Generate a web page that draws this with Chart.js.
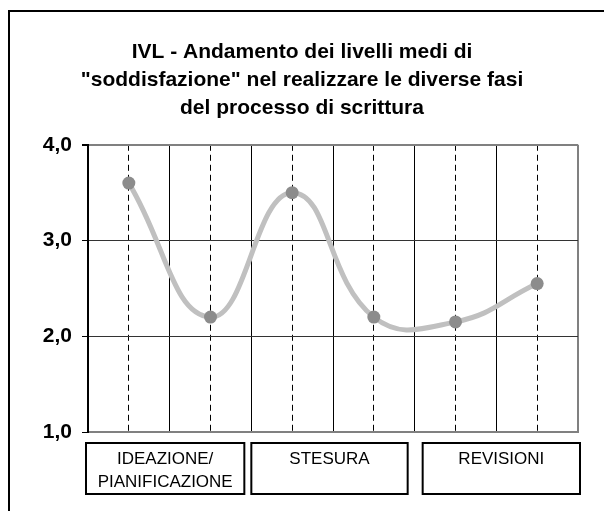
<!DOCTYPE html>
<html>
<head>
<meta charset="utf-8">
<script src="https://cdn.jsdelivr.net/npm/chart.js@4/dist/chart.umd.min.js"></script>
<style>
  html, body { margin: 0; padding: 0; background: #fff; overflow: hidden; }
  #frame { position: absolute; left: 8px; top: 10px; width: 700px; height: 600px; border: 2px solid #000; }
  #wrap { position: absolute; left: 0; top: 0; width: 604px; height: 511px; }
</style>
</head>
<body>
<div id="frame"></div>
<div id="wrap"><canvas id="myChart" width="604" height="511"></canvas></div>
<script>
// titolo del grafico
const titleLines = [
    'IVL - Andamento dei livelli medi di',
    '"soddisfazione" nel realizzare le diverse fasi',
    'del processo di scrittura'
];
// fasi del processo (ognuna copre due punti)
const phaseLabels = [['IDEAZIONE/', 'PIANIFICAZIONE'], ['STESURA'], ['REVISIONI']];
// livelli medi di soddisfazione
const satisfaction = [3.6, 2.2, 3.5, 2.2, 2.15, 2.55];
// scala verticale
const yMin = 1;
const yMax = 4;

const FONT = "'Liberation Sans', Arial, sans-serif";

// punti centrati nelle colonne
const points = satisfaction.map((v, i) => ({ x: i + 0.5, y: v }));

// riquadri delle fasi sotto l'asse x
const phaseBoxes = {
    id: 'phaseBoxes',
    afterDraw(chart) {
        const ctx = chart.ctx;
        const xs = chart.scales.x;
        const top = chart.chartArea.bottom + 11;
        const h = 51;
        const edges = [
            [xs.getPixelForValue(0) - 2, xs.getPixelForValue(2) - 7],
            [xs.getPixelForValue(2), xs.getPixelForValue(4) - 7],
            [xs.getPixelForValue(4) + 8, xs.getPixelForValue(6) + 2]
        ];
        ctx.save();
        ctx.lineWidth = 2;
        ctx.strokeStyle = '#000';
        ctx.fillStyle = '#000';
        ctx.font = '17px ' + FONT;
        ctx.textAlign = 'center';
        ctx.textBaseline = 'middle';
        for (let i = 0; i < edges.length; i++) {
            const l = edges[i][0], r = edges[i][1];
            ctx.strokeRect(l, top, r - l, h);
            phaseLabels[i].forEach((t, j) => {
                ctx.fillText(t, (l + r) / 2, top + 16 + j * 23);
            });
        }
        ctx.restore();
    }
};

new Chart(document.getElementById('myChart'), {
    type: 'line',
    data: {
        datasets: [{
            data: points,
            borderColor: '#c0c0c0',
            borderWidth: 5,
            tension: 0.45,
            pointRadius: 6.5,
            pointBackgroundColor: '#8c8c8c',
            pointBorderColor: '#8c8c8c',
            pointBorderWidth: 0
        }]
    },
    options: {
        responsive: false,
        animation: false,
        layout: { padding: 0 },
        plugins: {
            legend: { display: false },
            tooltip: { enabled: false },
            title: {
                display: true,
                text: titleLines,
                color: '#000',
                font: { family: FONT, size: 21, weight: 'bold', lineHeight: 1.33 },
                padding: { top: 38, bottom: 23 }
            }
        },
        scales: {
            x: {
                type: 'linear',
                min: 0,
                max: 6,
                afterFit(scale) { scale.height = 79; },
                ticks: { display: false, stepSize: 0.5 },
                grid: {
                    drawTicks: false,
                    color(c) {
                        if (!c.tick) return '#000';
                        const v = c.tick.value;
                        if (v === 0) return 'rgba(0,0,0,0)';
                        if (v === 6) return '#808080';
                        return '#000';
                    },
                    lineWidth(c) {
                        return c.tick && c.tick.value === 6 ? 2 : 1;
                    }
                },
                border: {
                    color: '#808080',
                    width: 2,
                    dash(c) {
                        if (!c.tick) return [];
                        return Number.isInteger(c.tick.value) ? [] : [6, 4];
                    }
                }
            },
            y: {
                min: yMin,
                max: yMax,
                afterFit(scale) { scale.width = 88; },
                ticks: {
                    stepSize: 1,
                    color: '#000',
                    padding: 10,
                    font: { family: FONT, size: 21, weight: 'bold' },
                    callback: v => v.toFixed(1).replace('.', ',')
                },
                grid: {
                    tickLength: 6,
                    tickColor: '#000',
                    color(c) {
                        if (!c.tick) return '#333';
                        if (c.tick.value === yMax) return '#808080';
                        if (c.tick.value === yMin) return 'rgba(0,0,0,0)';
                        return '#333';
                    },
                    lineWidth(c) {
                        return c.tick && c.tick.value === yMax ? 2 : 1;
                    }
                },
                border: { color: '#000', width: 2 }
            },
            // asse vuoto a destra: lascia il margine senza spostare il titolo
            yRight: {
                position: 'right',
                min: yMin,
                max: yMax,
                afterFit(scale) { scale.width = 26; },
                ticks: { display: false },
                grid: { display: false, drawOnChartArea: false },
                border: { display: false }
            }
        }
    },
    plugins: [phaseBoxes]
});
</script>
</body>
</html>
